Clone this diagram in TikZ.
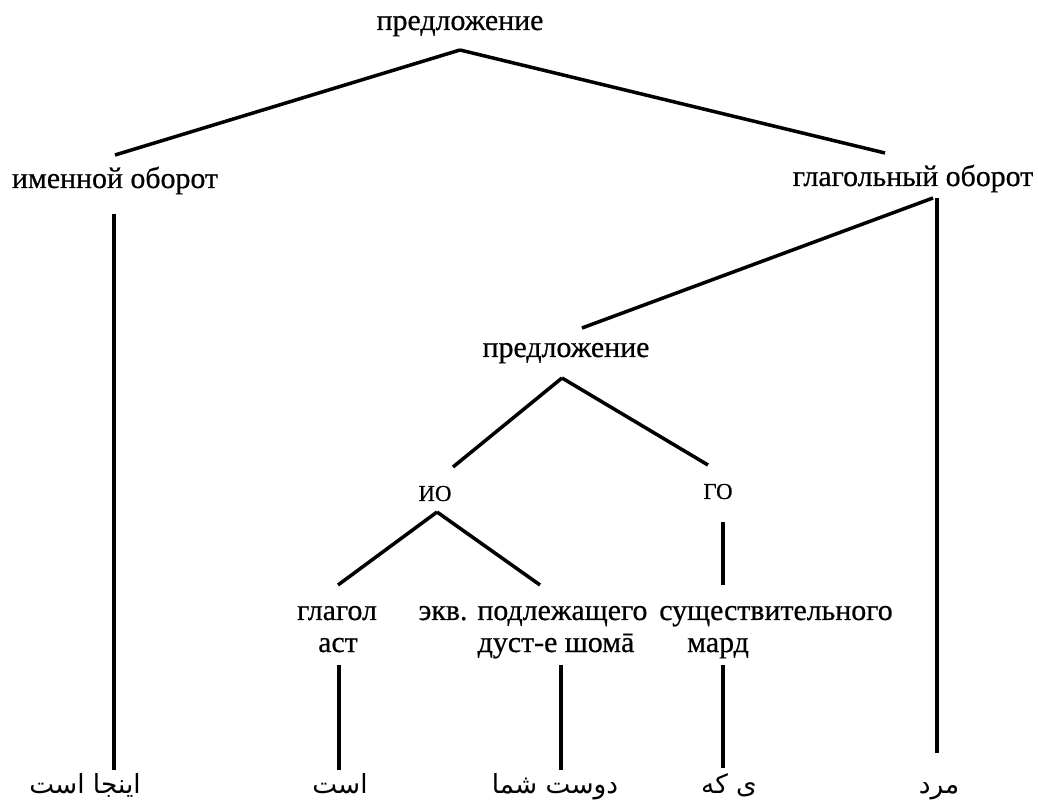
\documentclass[tikz,border=0pt]{standalone}
\usepackage{fontspec}
\setmainfont{Liberation Serif}[FakeBold=0.6]
\newfontfamily\arabicfont[Script=Arabic]{DejaVu Sans}
\TeXXeTstate=1
\usepackage{tikz}
\usetikzlibrary{calc}

\begin{document}
\begin{tikzpicture}[
    x=0.02cm, y=-0.02cm,
    lbl/.style={inner sep=0pt, anchor=base, font=\fontsize{17}{20}\selectfont},
    abbr/.style={inner sep=0pt, anchor=base, font=\fontsize{13}{15}\selectfont},
    fa/.style={inner sep=0pt, anchor=base, font=\arabicfont\fontsize{15}{18}\selectfont},
    branch/.style={line width=2pt}
]
\useasboundingbox (0,0) rectangle (1038,803);

% labels of the tree
\node[lbl] (top) at (460,30) {предложение};
\node[lbl] (np) at (115,188) {именной оборот};
\node[lbl] (vp) at (913,186) {глагольный оборот};
\node[lbl] (s2) at (566,357) {предложение};
\node[abbr] (io) at (435,501) {ИО};
\node[abbr] (go) at (718,499) {ГО};
\node[lbl] (vlab) at (337,620) {глагол};
\node[lbl] (ast) at (338,652) {аст};
\node[lbl] (subj) at (533,620) {экв. подлежащего};
\node[lbl] (dust) at (556,652) {дуст-е шомā};
\node[lbl] (noun) at (776,620) {существительного};
\node[lbl] (mard) at (718,652) {мард};

% persian words
\node[fa] (a1) at (85,793) {\beginR اینجا است\endR};
\node[fa] (a2) at (340,793) {\beginR است\endR};
\node[fa] (a3) at (555,793) {\beginR دوست شما\endR};
\node[fa] (a4) at (729,793) {\beginR ی که\endR};
\node[fa] (a5) at (939,793) {\beginR مرد\endR};

\draw[branch] ($(top.base)+(0,20)$) -- ($(np.base)+(0,-33)$);
\draw[branch] ($(top.base)+(0,20)$) -- ($(vp.base)+(-28,-33)$);
\draw[branch] ($(np.base)+(-1,26)$) -- ($(a1.base)+(29,-23)$);
\draw[branch] ($(vp.base)+(20,12)$) -- ($(s2.base)+(16,-29)$);
\draw[branch] ($(vp.base)+(24,12)$) -- ($(a5.base)+(-2,-40)$);
\draw[branch] ($(s2.base)+(-4,21)$) -- ($(io.base)+(18,-34)$);
\draw[branch] ($(s2.base)+(-4,21)$) -- ($(go.base)+(-10,-34)$);
\draw[branch] ($(io.base)+(2,11)$) -- ($(vlab.base)+(1,-35)$);
\draw[branch] ($(io.base)+(2,11)$) -- ($(subj.base)+(7,-35)$);
\draw[branch] ($(go.base)+(5,23)$) -- ($(noun.base)+(-53,-35)$);
\draw[branch] ($(ast.base)+(1,13)$) -- ($(a2.base)+(-1,-23)$);
\draw[branch] ($(dust.base)+(5,13)$) -- ($(a3.base)+(6,-23)$);
\draw[branch] ($(mard.base)+(5,13)$) -- ($(a4.base)+(-6,-25)$);

\end{tikzpicture}
\end{document}
